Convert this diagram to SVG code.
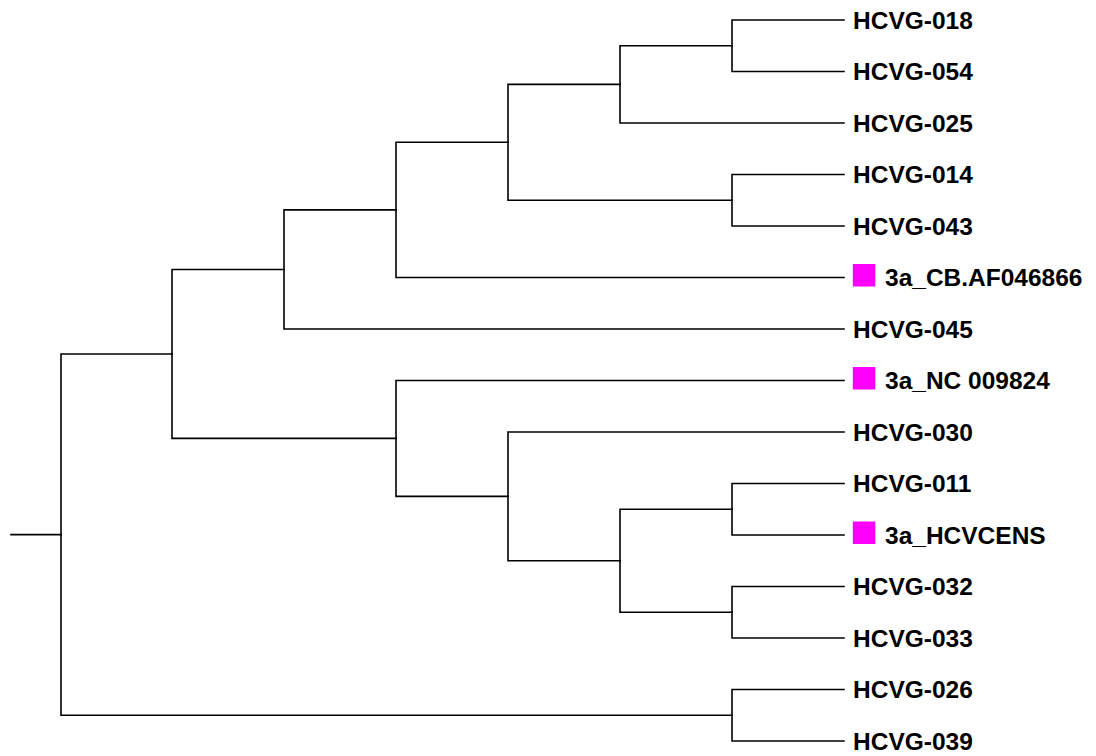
<svg xmlns="http://www.w3.org/2000/svg" width="1096" height="756" viewBox="0 0 1096 756">
<style>
.e{fill:none;stroke:#000;stroke-width:1.6;stroke-linecap:square}
.t{font-family:"Liberation Sans",Arial,sans-serif;font-weight:bold;font-size:24.5px;fill:#000}
.m{fill:#FF00FF}
</style>
<rect width="1096" height="756" fill="#fff"/>
<g id="connectors">
<path class="e" d="M11 534.6H61"/>
<path class="e" d="M61 534.6V354H172"/>
<path class="e" d="M61 534.6V715.25H732"/>
<path class="e" d="M172 354V269.5H284"/>
<path class="e" d="M172 354V438.4H396"/>
<path class="e" d="M284 269.5V209.9H396"/>
<path class="e" d="M284 269.5V329H844"/>
<path class="e" d="M396 209.9V142.3H508"/>
<path class="e" d="M396 209.9V277.5H844"/>
<path class="e" d="M508 142.3V84.4H620"/>
<path class="e" d="M508 142.3V200.25H732"/>
<path class="e" d="M620 84.4V45.75H732"/>
<path class="e" d="M620 84.4V123H844"/>
<path class="e" d="M732 45.75V20H844"/>
<path class="e" d="M732 45.75V71.5H844"/>
<path class="e" d="M732 200.25V174.5H844"/>
<path class="e" d="M732 200.25V226H844"/>
<path class="e" d="M396 438.4V380.5H844"/>
<path class="e" d="M396 438.4V496.4H508"/>
<path class="e" d="M508 496.4V432H844"/>
<path class="e" d="M508 496.4V560.75H620"/>
<path class="e" d="M620 560.75V509.25H732"/>
<path class="e" d="M620 560.75V612.25H732"/>
<path class="e" d="M732 509.25V483.5H844"/>
<path class="e" d="M732 509.25V535H844"/>
<path class="e" d="M732 612.25V586.5H844"/>
<path class="e" d="M732 612.25V638H844"/>
<path class="e" d="M732 715.25V689.5H844"/>
<path class="e" d="M732 715.25V741H844"/>
</g>
<g id="leaf-HCVG-018"><text class="t" x="853" y="28.6">HCVG-018</text></g>
<g id="leaf-HCVG-054"><text class="t" x="853" y="80.1">HCVG-054</text></g>
<g id="leaf-HCVG-025"><text class="t" x="853" y="131.6">HCVG-025</text></g>
<g id="leaf-HCVG-014"><text class="t" x="853" y="183.1">HCVG-014</text></g>
<g id="leaf-HCVG-043"><text class="t" x="853" y="234.6">HCVG-043</text></g>
<g id="leaf-3a_CB.AF046866"><rect class="m" x="852.8" y="264" width="22.5" height="22.5"/><text class="t" x="885" y="286.1">3a_CB.AF046866</text></g>
<g id="leaf-HCVG-045"><text class="t" x="853" y="337.6">HCVG-045</text></g>
<g id="leaf-3a_NC_009824"><rect class="m" x="852.8" y="367" width="22.5" height="22.5"/><text class="t" x="885" y="389.1">3a_NC 009824</text></g>
<g id="leaf-HCVG-030"><text class="t" x="853" y="440.6">HCVG-030</text></g>
<g id="leaf-HCVG-011"><text class="t" x="853" y="492.1">HCVG-011</text></g>
<g id="leaf-3a_HCVCENS"><rect class="m" x="852.8" y="521.5" width="22.5" height="22.5"/><text class="t" x="885" y="543.6">3a_HCVCENS</text></g>
<g id="leaf-HCVG-032"><text class="t" x="853" y="595.1">HCVG-032</text></g>
<g id="leaf-HCVG-033"><text class="t" x="853" y="646.6">HCVG-033</text></g>
<g id="leaf-HCVG-026"><text class="t" x="853" y="698.1">HCVG-026</text></g>
<g id="leaf-HCVG-039"><text class="t" x="853" y="749.6">HCVG-039</text></g>
</svg>
